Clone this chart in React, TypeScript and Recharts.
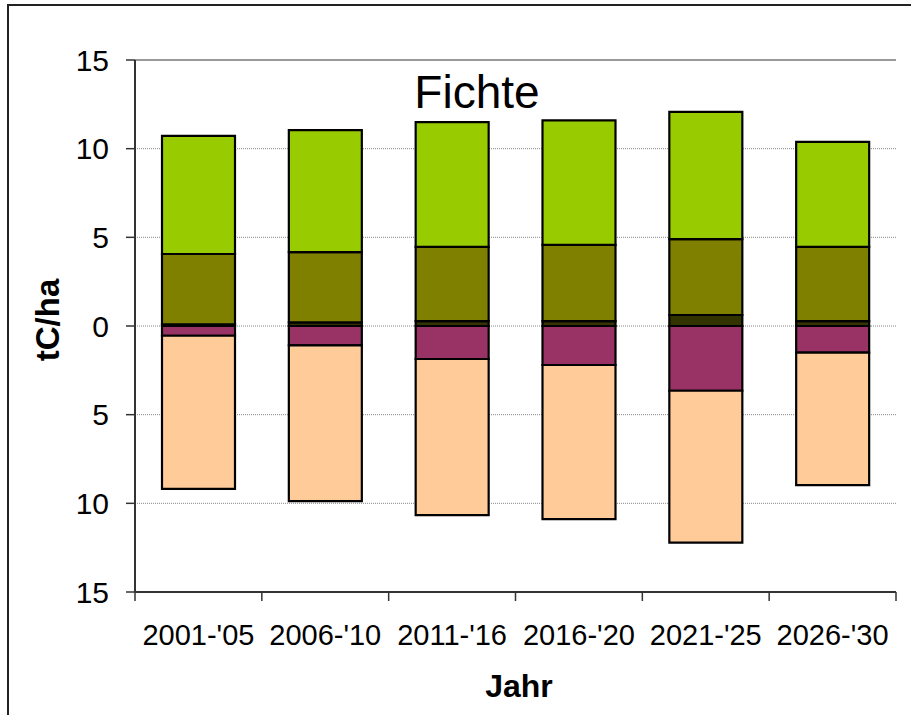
import React from 'react';
import {
  BarChart,
  Bar,
  XAxis,
  YAxis,
  CartesianGrid,
  ReferenceLine,
} from 'recharts';

const periods = ["2001-'05", "2006-'10", "2011-'16", "2016-'20", "2021-'25", "2026-'30"];
const darkPart = [0.1, 0.2, 0.28, 0.28, 0.62, 0.27];
const olivePart = [3.96, 3.97, 4.18, 4.29, 4.28, 4.19];
const greenPart = [6.66, 6.88, 7.04, 7.03, 7.17, 5.92];
const purplePart = [-0.55, -1.09, -1.86, -2.2, -3.65, -1.5];
const peachPart = [-8.64, -8.78, -8.8, -8.69, -8.57, -7.47];
const yTicks = [-15, -10, -5, 0, 5, 10, 15];

const data = periods.map((name, i) => ({
  name,
  dark: darkPart[i],
  olive: olivePart[i],
  green: greenPart[i],
  purple: purplePart[i],
  peach: peachPart[i],
}));

const FONT = '"Liberation Sans", Arial, sans-serif';
const PLOT_W = 761;
const BAND = PLOT_W / periods.length;

const XTick = (props: any) => {
  const { x, y, payload, index } = props;
  const left = x - BAND / 2;
  const right = x + BAND / 2;
  return (
    <g>
      <line x1={left} y1={y} x2={left} y2={y + 9} stroke="#333" strokeWidth={1.5} />
      {index === periods.length - 1 && (
        <line x1={right} y1={y} x2={right} y2={y + 9} stroke="#333" strokeWidth={1.5} />
      )}
      <text x={x} y={y + 53} textAnchor="middle" fontSize={29} fontFamily={FONT} fill="#000">
        {payload.value}
      </text>
    </g>
  );
};

const barStroke = { stroke: '#000', strokeWidth: 2.2 };

export default function App() {
  return (
    <div style={{ position: 'absolute', left: 0, top: 0, width: 911, height: 715, background: '#fff', overflow: 'hidden' }}>
      <div
        style={{
          position: 'absolute',
          left: 7,
          top: 4,
          width: 940,
          height: 740,
          borderLeft: '2px solid #222',
          borderTop: '2px solid #222',
        }}
      />
      <div style={{ position: 'absolute', left: 0, top: 0 }}>
        <BarChart
          width={911}
          height={715}
          data={data}
          stackOffset="sign"
          margin={{ top: 60, right: 15, left: 55, bottom: 0 }}
          barSize={73}
        >
          <CartesianGrid vertical={false} stroke="#888" strokeDasharray="1 1" />
          <ReferenceLine y={15} stroke="#999" strokeWidth={2} />
          <XAxis
            dataKey="name"
            height={123}
            tickLine={false}
            tickSize={0}
            tickMargin={0}
            axisLine={{ stroke: '#333', strokeWidth: 2 }}
            tick={<XTick />}
            interval={0}
          />
          <YAxis
            domain={[-15, 15]}
            ticks={yTicks}
            width={80}
            tickSize={9}
            tickMargin={17}
            tickFormatter={(v: number) => String(Math.abs(v))}
            tick={{ fontSize: 30, fontFamily: FONT, fill: '#000' }}
            tickLine={{ stroke: '#333', strokeWidth: 1.5 }}
            axisLine={{ stroke: '#333', strokeWidth: 2 }}
            allowDataOverflow
          />
          <YAxis
            yAxisId="right"
            orientation="right"
            width={0}
            tick={false}
            tickLine={false}
            axisLine={{ stroke: '#999', strokeWidth: 2 }}
          />
          <Bar dataKey="dark" stackId="a" fill="#333300" {...barStroke} isAnimationActive={false} />
          <Bar dataKey="olive" stackId="a" fill="#808000" {...barStroke} isAnimationActive={false} />
          <Bar dataKey="green" stackId="a" fill="#99CC00" {...barStroke} isAnimationActive={false} />
          <Bar dataKey="purple" stackId="a" fill="#993366" {...barStroke} isAnimationActive={false} />
          <Bar dataKey="peach" stackId="a" fill="#FFCC99" {...barStroke} isAnimationActive={false} />
        </BarChart>
      </div>
      <svg width={911} height={715} style={{ position: 'absolute', left: 0, top: 0, pointerEvents: 'none' }}>
        <text x={477} y={108} textAnchor="middle" fontSize={46} fontFamily={FONT} fill="#000">
          Fichte
        </text>
        <text
          x={0}
          y={0}
          transform="translate(59 320) rotate(-90)"
          textAnchor="middle"
          fontSize={33}
          fontWeight="bold"
          fontFamily={FONT}
          fill="#000"
        >
          tC/ha
        </text>
        <text x={519} y={697} textAnchor="middle" fontSize={32} fontWeight="bold" fontFamily={FONT} fill="#000">
          Jahr
        </text>
      </svg>
    </div>
  );
}
